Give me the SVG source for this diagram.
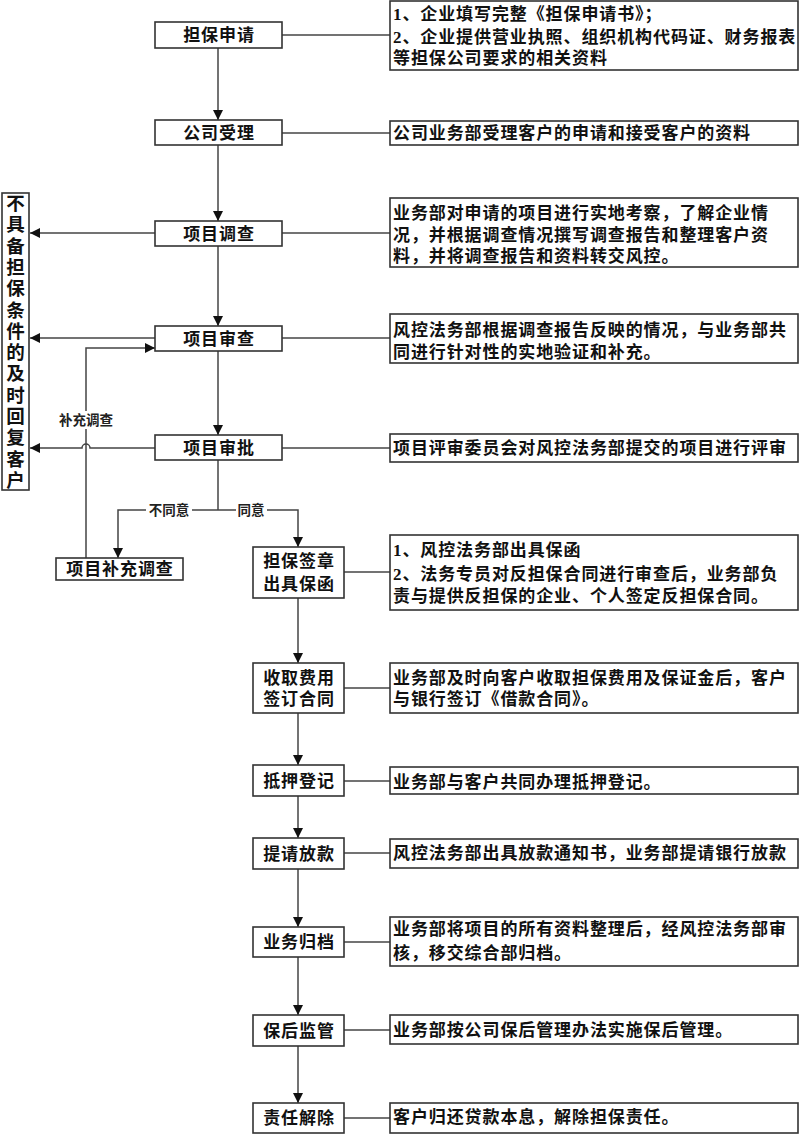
<svg xmlns="http://www.w3.org/2000/svg" width="800" height="1134" viewBox="0 0 800 1134">
<style>
.box{fill:#fff;stroke:#333;stroke-width:1.6}
.ln{fill:none;stroke:#444;stroke-width:1.5}
.t{font-family:"Liberation Serif","Noto Sans CJK SC",serif;font-weight:bold;font-size:17px;letter-spacing:0.9px;fill:#111}
.n{font-family:"Liberation Serif","Noto Sans CJK SC",serif;font-weight:bold;font-size:17px;letter-spacing:0.9px;fill:#111;text-anchor:middle}
.s{font-family:"Liberation Serif","Noto Sans CJK SC",serif;font-weight:bold;font-size:13.5px;fill:#222;text-anchor:middle}
.v{font-family:"Liberation Serif","Noto Sans CJK SC",serif;font-weight:bold;font-size:18.5px;fill:#111;text-anchor:middle}
</style>
<defs>
<marker id="ah" viewBox="0 0 10 10" refX="10" refY="5" markerWidth="10" markerHeight="10" markerUnits="userSpaceOnUse" orient="auto">
<path d="M0,0 L10,5 L0,10 z" fill="#111"/>
</marker>
</defs>
<rect width="800" height="1134" fill="#fff"/>

<g id="connectors">
<path class="ln" d="M218,48 V120" marker-end="url(#ah)"/>
<path class="ln" d="M218,145 V221" marker-end="url(#ah)"/>
<path class="ln" d="M218,246 V326" marker-end="url(#ah)"/>
<path class="ln" d="M218,351 V435" marker-end="url(#ah)"/>
<path class="ln" d="M218,460 V510"/>
<path class="ln" d="M218,510 H118 V558" marker-end="url(#ah)"/>
<path class="ln" d="M218,510 H298 V547" marker-end="url(#ah)"/>
<path class="ln" d="M155,233 H30" marker-end="url(#ah)"/>
<path class="ln" d="M155,338 H30" marker-end="url(#ah)"/>
<path class="ln" d="M155,448 H90 A4,4 0 0 0 82,448 H30" marker-end="url(#ah)"/>
<path class="ln" d="M86,558 V348 H155" marker-end="url(#ah)"/>
<path class="ln" d="M298,598 V663" marker-end="url(#ah)"/>
<path class="ln" d="M298,713 V765" marker-end="url(#ah)"/>
<path class="ln" d="M298,796 V838" marker-end="url(#ah)"/>
<path class="ln" d="M298,869 V927" marker-end="url(#ah)"/>
<path class="ln" d="M298,957 V1015" marker-end="url(#ah)"/>
<path class="ln" d="M298,1046 V1103" marker-end="url(#ah)"/>
<path class="ln" d="M282,35 H390"/>
<path class="ln" d="M282,133 H390"/>
<path class="ln" d="M282,233 H390"/>
<path class="ln" d="M282,338 H390"/>
<path class="ln" d="M282,448 H390"/>
<path class="ln" d="M344,572 H390"/>
<path class="ln" d="M344,688 H390"/>
<path class="ln" d="M344,781 H390"/>
<path class="ln" d="M344,853 H390"/>
<path class="ln" d="M344,942 H390"/>
<path class="ln" d="M344,1030 H390"/>
<path class="ln" d="M344,1118 H390"/>
<rect x="56" y="411" width="60" height="18" fill="#fff"/>
<text class="s" x="86" y="425">补充调查</text>
<rect x="146" y="502" width="46" height="16" fill="#fff"/>
<text class="s" x="169" y="515">不同意</text>
<rect x="236" y="502" width="31" height="16" fill="#fff"/>
<text class="s" x="251" y="515">同意</text>
</g>

<g id="n-reject">
<rect class="box" x="2" y="193" width="27" height="297"/>
<text class="v">
<tspan x="15.5" y="210">不</tspan><tspan x="15.5" y="231.3">具</tspan><tspan x="15.5" y="252.6">备</tspan><tspan x="15.5" y="273.9">担</tspan><tspan x="15.5" y="295.2">保</tspan><tspan x="15.5" y="316.5">条</tspan><tspan x="15.5" y="337.8">件</tspan><tspan x="15.5" y="359.1">的</tspan><tspan x="15.5" y="380.4">及</tspan><tspan x="15.5" y="401.7">时</tspan><tspan x="15.5" y="423">回</tspan><tspan x="15.5" y="444.3">复</tspan><tspan x="15.5" y="465.6">客</tspan><tspan x="15.5" y="486.9">户</tspan>
</text>
</g>

<g id="n-apply">
<rect class="box" x="155" y="22" width="127" height="26"/>
<text class="n" x="219" y="41">担保申请</text>
</g>
<g id="d-apply">
<rect class="box" x="390" y="1" width="408" height="69"/>
<text class="t" x="393" y="20">1、企业填写完整《担保申请书》；</text>
<text class="t" x="393" y="43">2、企业提供营业执照、组织机构代码证、财务报表</text>
<text class="t" x="393" y="64">等担保公司要求的相关资料</text>
</g>

<g id="n-accept">
<rect class="box" x="155" y="120" width="127" height="25"/>
<text class="n" x="219" y="139">公司受理</text>
</g>
<g id="d-accept">
<rect class="box" x="390" y="121" width="408" height="24"/>
<text class="t" x="393" y="139">公司业务部受理客户的申请和接受客户的资料</text>
</g>

<g id="n-survey">
<rect class="box" x="155" y="221" width="127" height="25"/>
<text class="n" x="219" y="240">项目调查</text>
</g>
<g id="d-survey">
<rect class="box" x="390" y="198" width="408" height="69"/>
<text class="t" x="393" y="219">业务部对申请的项目进行实地考察，了解企业情</text>
<text class="t" x="393" y="241">况，并根据调查情况撰写调查报告和整理客户资</text>
<text class="t" x="393" y="262">料，并将调查报告和资料转交风控。</text>
</g>

<g id="n-review">
<rect class="box" x="155" y="326" width="127" height="25"/>
<text class="n" x="219" y="345">项目审查</text>
</g>
<g id="d-review">
<rect class="box" x="390" y="314" width="408" height="49"/>
<text class="t" x="393" y="336">风控法务部根据调查报告反映的情况，与业务部共</text>
<text class="t" x="393" y="358">同进行针对性的实地验证和补充。</text>
</g>

<g id="n-approve">
<rect class="box" x="155" y="435" width="127" height="25"/>
<text class="n" x="219" y="454">项目审批</text>
</g>
<g id="d-approve">
<rect class="box" x="390" y="434" width="408" height="28"/>
<text class="t" x="393" y="454">项目评审委员会对风控法务部提交的项目进行评审</text>
</g>

<g id="n-supplement">
<rect class="box" x="56" y="558" width="127" height="22"/>
<text class="n" x="120" y="575">项目补充调查</text>
</g>

<g id="n-sign">
<rect class="box" x="253" y="547" width="91" height="51"/>
<text class="n" x="299" y="567">担保签章</text>
<text class="n" x="299" y="590">出具保函</text>
</g>
<g id="d-sign">
<rect class="box" x="390" y="535" width="408" height="75"/>
<text class="t" x="393" y="556">1、风控法务部出具保函</text>
<text class="t" x="393" y="580">2、法务专员对反担保合同进行审查后，业务部负</text>
<text class="t" x="393" y="602">责与提供反担保的企业、个人签定反担保合同。</text>
</g>

<g id="n-fee">
<rect class="box" x="253" y="663" width="91" height="50"/>
<text class="n" x="299" y="684">收取费用</text>
<text class="n" x="299" y="705">签订合同</text>
</g>
<g id="d-fee">
<rect class="box" x="390" y="663" width="408" height="50"/>
<text class="t" x="393" y="684">业务部及时向客户收取担保费用及保证金后，客户</text>
<text class="t" x="393" y="705">与银行签订《借款合同》。</text>
</g>

<g id="n-mortgage">
<rect class="box" x="253" y="765" width="91" height="31"/>
<text class="n" x="299" y="787">抵押登记</text>
</g>
<g id="d-mortgage">
<rect class="box" x="390" y="767" width="408" height="27"/>
<text class="t" x="393" y="788">业务部与客户共同办理抵押登记。</text>
</g>

<g id="n-loan">
<rect class="box" x="253" y="838" width="91" height="31"/>
<text class="n" x="299" y="860">提请放款</text>
</g>
<g id="d-loan">
<rect class="box" x="390" y="839" width="408" height="29"/>
<text class="t" x="393" y="859">风控法务部出具放款通知书，业务部提请银行放款</text>
</g>

<g id="n-archive">
<rect class="box" x="253" y="927" width="91" height="30"/>
<text class="n" x="299" y="948">业务归档</text>
</g>
<g id="d-archive">
<rect class="box" x="390" y="917" width="408" height="49"/>
<text class="t" x="393" y="935">业务部将项目的所有资料整理后，经风控法务部审</text>
<text class="t" x="393" y="959">核，移交综合部归档。</text>
</g>

<g id="n-monitor">
<rect class="box" x="253" y="1015" width="91" height="31"/>
<text class="n" x="299" y="1037">保后监管</text>
</g>
<g id="d-monitor">
<rect class="box" x="390" y="1015" width="408" height="29"/>
<text class="t" x="393" y="1036">业务部按公司保后管理办法实施保后管理。</text>
</g>

<g id="n-release">
<rect class="box" x="253" y="1103" width="91" height="30"/>
<text class="n" x="299" y="1124">责任解除</text>
</g>
<g id="d-release">
<rect class="box" x="390" y="1103" width="408" height="30"/>
<text class="t" x="393" y="1123">客户归还贷款本息，解除担保责任。</text>
</g>
</svg>
